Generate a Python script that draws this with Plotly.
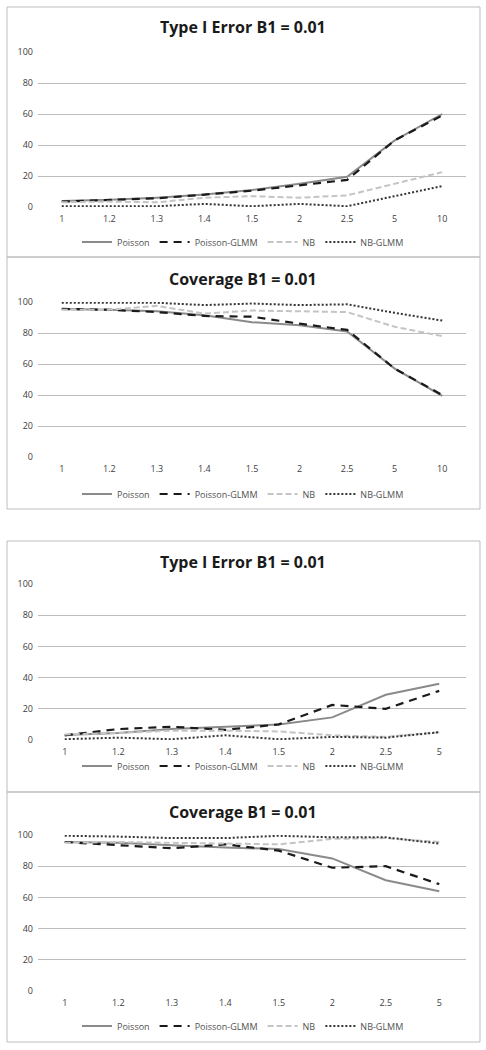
import plotly.graph_objects as go

# ---------------- data ----------------
cats_a = ["1", "1.2", "1.3", "1.4", "1.5", "2", "2.5", "5", "10"]
cats_b = ["1", "1.2", "1.3", "1.4", "1.5", "2", "2.5", "5"]

series_names = ["Poisson", "Poisson-GLMM", "NB", "NB-GLMM"]

# Panel 1: Type I error (first design)
t1_poisson = [3.9, 4.6, 6.0, 8.0, 11.0, 15.0, 19.5, 43.0, 60.0]
t1_pglmm = [3.5, 4.5, 5.6, 8.0, 10.5, 14.0, 17.5, 43.0, 59.0]
t1_nb = [3.0, 3.5, 3.0, 6.0, 7.0, 6.0, 7.5, 15.0, 22.5]
t1_nbglmm = [0.5, 0.5, 0.5, 2.0, 0.5, 2.0, 0.5, 7.0, 13.5]

# Panel 2: Coverage (first design)
c1_poisson = [95.5, 95.0, 94.0, 91.5, 87.0, 85.0, 81.0, 57.0, 39.5]
c1_pglmm = [95.5, 95.0, 93.5, 91.0, 90.5, 86.0, 82.0, 57.0, 40.0]
c1_nb = [95.0, 95.0, 97.5, 92.5, 94.5, 94.0, 93.5, 84.0, 78.0]
c1_nbglmm = [99.5, 99.5, 99.5, 98.0, 99.0, 98.0, 98.5, 93.0, 88.0]

# Panel 3: Type I error (second design)
t2_poisson = [3.2, 4.5, 7.0, 8.5, 10.0, 14.5, 29.0, 36.0]
t2_pglmm = [3.0, 7.0, 8.5, 6.5, 10.0, 22.5, 20.0, 31.5]
t2_nb = [3.5, 4.5, 6.0, 6.0, 5.5, 3.0, 2.0, 5.0]
t2_nbglmm = [0.5, 1.5, 0.5, 3.0, 0.5, 2.0, 1.5, 5.0]

# Panel 4: Coverage (second design)
c2_poisson = [95.5, 95.0, 93.5, 92.0, 91.0, 85.0, 71.0, 64.0]
c2_pglmm = [95.5, 93.5, 91.5, 94.0, 90.0, 79.0, 80.0, 68.5]
c2_nb = [95.0, 95.5, 95.0, 94.5, 94.0, 97.5, 98.0, 95.5]
c2_nbglmm = [99.5, 99.0, 98.0, 98.0, 99.5, 98.5, 98.5, 94.5]

titles = ["Type I Error B1 = 0.01", "Coverage B1 = 0.01",
          "Type I Error B1 = 0.01", "Coverage B1 = 0.01"]
y_ticks = [0, 20, 40, 60, 80, 100]

panels = [
    (cats_a, [t1_poisson, t1_pglmm, t1_nb, t1_nbglmm]),
    (cats_a, [c1_poisson, c1_pglmm, c1_nb, c1_nbglmm]),
    (cats_b, [t2_poisson, t2_pglmm, t2_nb, t2_nbglmm]),
    (cats_b, [c2_poisson, c2_pglmm, c2_nb, c2_nbglmm]),
]

# ---------------- layout geometry (pixels) ----------------
W, H = 486, 1050
styles = [
    dict(color="#8a8a8a", width=2, dash="solid"),
    dict(color="#1a1a1a", width=2.2, dash="8px,6px"),
    dict(color="#c4c4c4", width=2, dash="6px,3px"),
    dict(color="#333333", width=2, dash="2px,2px"),
]
# (plot top px, plot bottom px, title px, legend px, box top, box bottom)
geo = [
    (52, 207, 27, 242, 7, 257),
    (302, 457, 279, 494, 257, 509),
    (584, 740, 562, 766, 541, 792),
    (835, 991, 812, 1026, 792, 1042),
]
x0px, x1px = 38, 466


def py(p):
    return 1 - p / H


fig = go.Figure()
layout = dict(
    width=W, height=H, margin=dict(l=0, r=0, t=0, b=0, autoexpand=False),
    paper_bgcolor="white", plot_bgcolor="white",
    font=dict(family="Open Sans, Arial, sans-serif", color="#404040"),
    showlegend=True, annotations=[], shapes=[],
)

for i, (cats, vals) in enumerate(panels):
    idx = "" if i == 0 else str(i + 1)
    leg = "legend" if i == 0 else f"legend{i + 1}"
    for s, name in enumerate(series_names):
        fig.add_trace(go.Scatter(
            x=cats, y=vals[s], mode="lines", name=name,
            line=styles[s], xaxis=f"x{idx}", yaxis=f"y{idx}",
            legend=leg, showlegend=True,
        ))
    top, bot, tpx, lpx, btop, bbot = geo[i]
    layout[f"xaxis{idx}"] = dict(
        domain=[x0px / W, x1px / W], anchor=f"y{idx}", type="category",
        categoryorder="array", categoryarray=cats, automargin=False,
        range=[-0.5, len(cats) - 0.5], showgrid=False, zeroline=False,
        showline=False, ticks="", ticklabelstandoff=5,
        tickfont=dict(size=9, color="#404040"), fixedrange=True,
    )
    layout[f"yaxis{idx}"] = dict(
        domain=[py(bot), py(top)], anchor=f"x{idx}", range=[0, 100],
        tickvals=y_ticks, showgrid=True, gridcolor="#bcbcbc", gridwidth=1.3,
        zeroline=False, showline=False, ticks="", automargin=False,
        tickfont=dict(size=9, color="#404040"), ticklabelstandoff=4,
        fixedrange=True,
    )
    layout[leg] = dict(
        orientation="h", x=0.5, xanchor="center", y=py(lpx), yanchor="middle",
        font=dict(size=9, color="#505050"), bgcolor="rgba(0,0,0,0)",
        itemwidth=30, tracegroupgap=0,
    )
    layout["annotations"].append(dict(
        text=f"<b>{titles[i]}</b>", x=0.5, xref="paper", y=py(tpx),
        yref="paper", xanchor="center", yanchor="middle", showarrow=False,
        font=dict(size=16, color="#1a1a1a",
                  family="Open Sans, Arial, sans-serif"),
    ))
    layout["shapes"].append(dict(
        type="rect", xref="paper", yref="paper",
        x0=7 / W, x1=480 / W, y0=py(bbot), y1=py(btop),
        line=dict(color="#bdbdbd", width=1), fillcolor="rgba(0,0,0,0)",
        layer="below",
    ))

fig.update_layout(**layout)
fig.write_html(
    "out.html",
    config={"displayModeBar": False},
    post_script="document.body.style.margin='0';",
)
